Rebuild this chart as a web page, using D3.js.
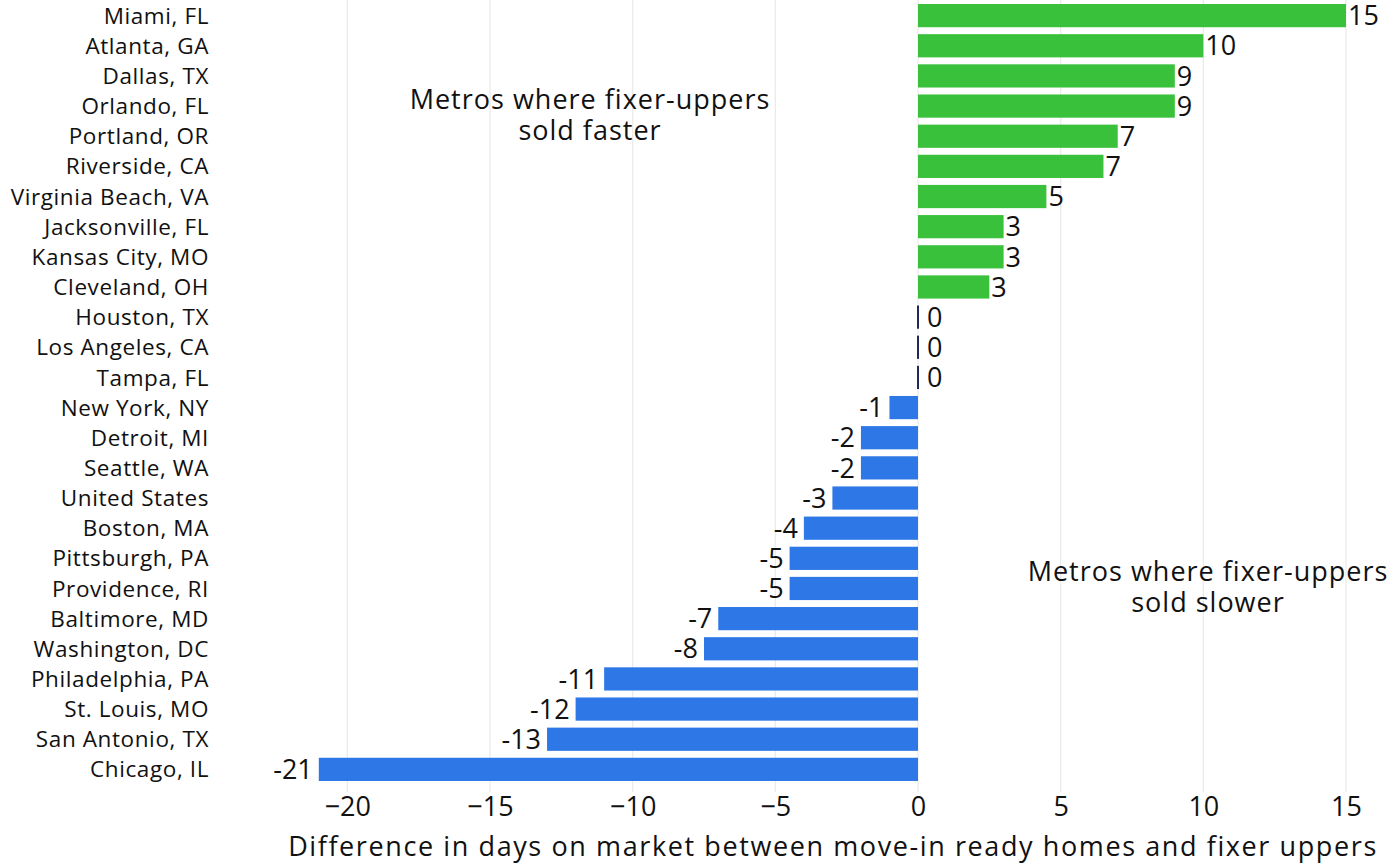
<!DOCTYPE html>
<html><head><meta charset="utf-8">
<script src="https://cdn.jsdelivr.net/npm/d3@7"></script>
<style>body{margin:0;background:#fff}svg{display:block}text{font-family:"Open Sans","Noto Sans",sans-serif;fill:#111}</style>
</head><body><svg id="c" width="1395" height="863"></svg>
<script>
const metros = ["Miami, FL","Atlanta, GA","Dallas, TX","Orlando, FL","Portland, OR","Riverside, CA","Virginia Beach, VA","Jacksonville, FL","Kansas City, MO","Cleveland, OH","Houston, TX","Los Angeles, CA","Tampa, FL","New York, NY","Detroit, MI","Seattle, WA","United States","Boston, MA","Pittsburgh, PA","Providence, RI","Baltimore, MD","Washington, DC","Philadelphia, PA","St. Louis, MO","San Antonio, TX","Chicago, IL"];
const dayDiff = [15,10,9,9,7,6.5,4.5,3,3,2.5,0,0,0,-1,-2,-2,-3,-4,-4.5,-4.5,-7,-7.5,-11,-12,-13,-21];
const valueLabels = ["15","10","9","9","7","7","5","3","3","3","0","0","0","-1","-2","-2","-3","-4","-5","-5","-7","-8","-11","-12","-13","-21"];
const xTicks = [-20,-15,-10,-5,0,5,10,15];
const axisTitle = "Difference in days on market between move-in ready homes and fixer uppers";
const noteFaster = ["Metros where fixer-uppers","sold faster"];
const noteSlower = ["Metros where fixer-uppers","sold slower"];

const svg = d3.select("#c");
const x = d3.scaleLinear().domain([0,15]).range([918,1346]);
const y = d3.scaleBand().domain(metros).range([1,784]).paddingInner(0.23).paddingOuter(0.1);

svg.append("g").selectAll("line").data(xTicks).join("line")
  .attr("x1",d=>x(d)).attr("x2",d=>x(d)).attr("y1",0).attr("y2",792)
  .attr("stroke","#ebebeb").attr("stroke-width",1.3);

svg.append("g").selectAll("rect").data(metros).join("rect")
  .attr("x",(d,i)=>dayDiff[i]===0?x(0)-1:Math.min(x(0),x(dayDiff[i])))
  .attr("width",(d,i)=>dayDiff[i]===0?2:Math.abs(x(dayDiff[i])-x(0)))
  .attr("y",d=>y(d)).attr("height",y.bandwidth())
  .attr("fill",(d,i)=>dayDiff[i]>0?"#3ac13c":dayDiff[i]<0?"#2d77e6":"#1c2b5a");

svg.append("g").selectAll("text").data(metros).join("text")
  .attr("x",(d,i)=>dayDiff[i]>=0?x(dayDiff[i])+(dayDiff[i]===0?9:2):x(dayDiff[i])-6)
  .attr("y",d=>y(d)+y.bandwidth()/2).attr("dy","0.36em")
  .attr("text-anchor",(d,i)=>dayDiff[i]>=0?"start":"end")
  .style("font-size","27px").text((d,i)=>valueLabels[i]);

svg.append("g").selectAll("text").data(metros).join("text")
  .attr("x",209).attr("y",d=>y(d)+y.bandwidth()/2).attr("dy","0.36em")
  .attr("text-anchor","end").style("font-size","22.5px").style("letter-spacing","0.6px").text(d=>d);

const ax = svg.append("g").attr("transform","translate(0,792)")
  .call(d3.axisBottom(x).tickValues(xTicks).tickSize(0).tickPadding(5).tickFormat(d3.format("d")));
ax.select(".domain").remove();
ax.selectAll("text").style("font-size","27px").attr("dy","0.71em").style("fill","#111");

svg.append("text").attr("x",833).attr("y",856).attr("text-anchor","middle")
  .style("font-size","27px").style("letter-spacing","1.6px").text(axisTitle);

svg.append("text").attr("x",590).attr("y",109).attr("text-anchor","middle").style("font-size","27px").style("letter-spacing","1px")
  .selectAll("tspan").data(noteFaster).join("tspan").attr("x",590).attr("dy",(d,i)=>i?"1.13em":0).text(d=>d);
svg.append("text").attr("x",1208).attr("y",581).attr("text-anchor","middle").style("font-size","27px").style("letter-spacing","1px")
  .selectAll("tspan").data(noteSlower).join("tspan").attr("x",1208).attr("dy",(d,i)=>i?"1.13em":0).text(d=>d);
</script></body></html>
